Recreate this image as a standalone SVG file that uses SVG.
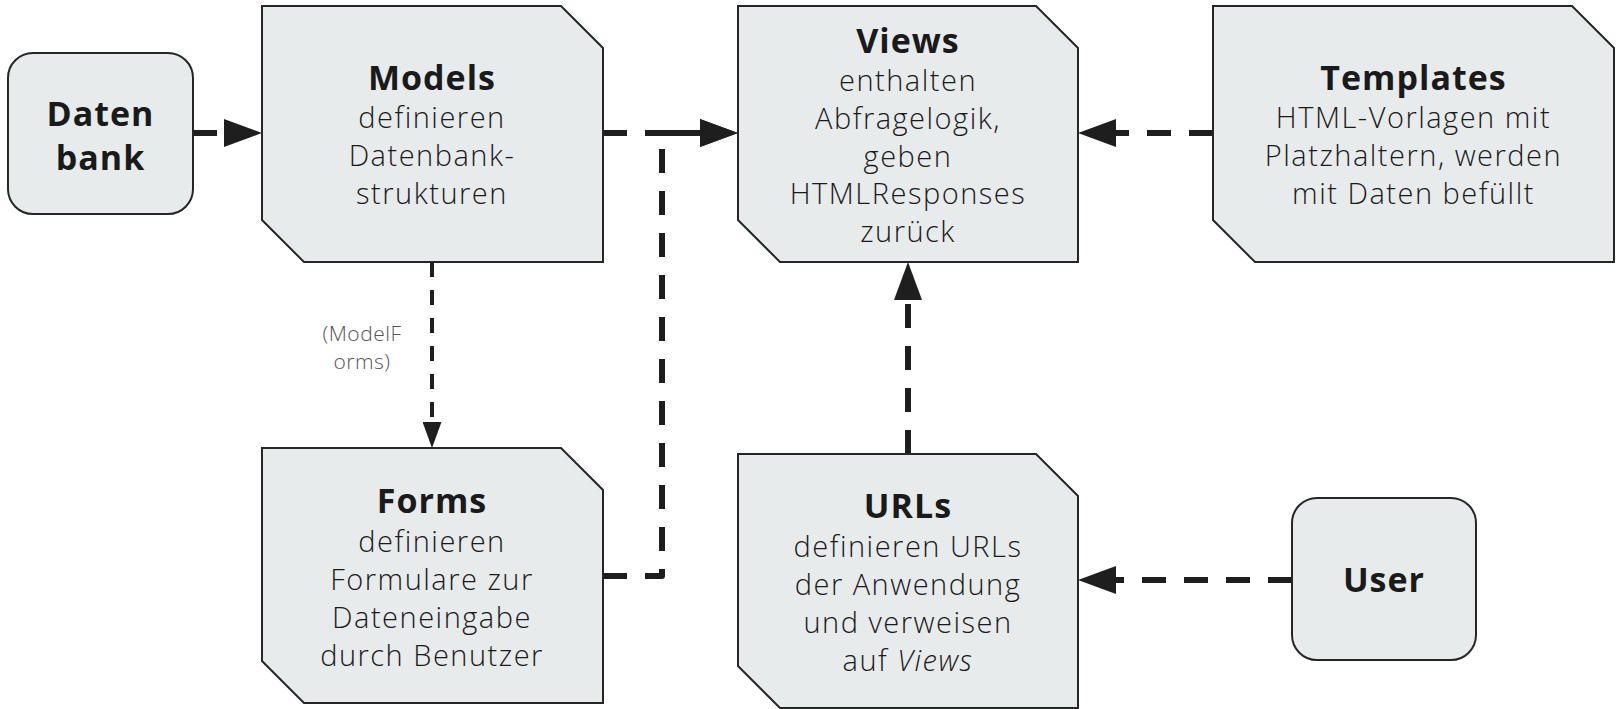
<svg xmlns="http://www.w3.org/2000/svg" width="1616" height="709" viewBox="0 0 1616 709">
<defs>
<style>
.node{fill:#E8EBEC;stroke:#262626;stroke-width:2}
.t{font-family:"Open Sans","Liberation Sans",sans-serif;fill:#1a1a1a;text-anchor:middle}
.title{font-size:34px;font-weight:700;letter-spacing:1px}
.body{font-size:29px;font-weight:300;letter-spacing:1.5px}
.edge{fill:none;stroke:#1e1e1e;stroke-linejoin:round}
.thick{stroke-width:6;stroke-dasharray:24 18;marker-end:url(#ah)}
.thin{stroke-width:4;stroke-dasharray:15 13;marker-end:url(#ahs)}
.lbl{font-family:"Open Sans","Liberation Sans",sans-serif;font-size:21px;font-weight:300;fill:#555;text-anchor:middle;letter-spacing:0.5px}
</style>
<marker id="ah" markerUnits="userSpaceOnUse" markerWidth="38" markerHeight="28" refX="0" refY="14" orient="auto" viewBox="0 0 38 28">
<path d="M0,0 L38,14 L0,28 Z" fill="#1e1e1e"/>
</marker>
<marker id="ahs" markerUnits="userSpaceOnUse" markerWidth="26" markerHeight="19" refX="0" refY="9.5" orient="auto" viewBox="0 0 26 19">
<path d="M0,0 L26,9.5 L0,19 Z" fill="#1e1e1e"/>
</marker>
</defs>
<rect width="1616" height="709" fill="#ffffff"/>
<g id="connectors">
<path class="edge thick" d="M193,133 H224"/>
<path class="edge thick" d="M603,133 H700"/>
<path class="edge thick" d="M603,576 H662 V133 H700"/>
<path class="edge thick" d="M1213,133 H1116"/>
<path class="edge thick" d="M908,454 V300"/>
<path class="edge thick" d="M1292,580 H1116"/>
<path class="edge thin" d="M432,262 V422"/>
<g id="label-modelforms">
<text class="lbl" x="362" y="341">(ModelF</text>
<text class="lbl" x="362" y="369">orms)</text>
</g>
</g>
<g id="datenbank">
<rect class="node" x="8" y="53" width="185" height="161" rx="25" ry="25"/>
<text class="t title" x="100.5" y="126">Daten</text>
<text class="t title" x="100.5" y="170">bank</text>
</g>
<g id="models">
<path class="node" d="M262,6 H561 L603,48 V262 H304 L262,220 Z"/>
<text class="t title" x="432" y="90">Models</text>
<text class="t body" x="432" y="128">definieren</text>
<text class="t body" x="432" y="166">Datenbank-</text>
<text class="t body" x="432" y="204">strukturen</text>
</g>
<g id="views">
<path class="node" d="M738,6 H1036 L1078,48 V262 H780 L738,220 Z"/>
<text class="t title" x="908" y="53">Views</text>
<text class="t body" x="908" y="91">enthalten</text>
<text class="t body" x="908" y="129">Abfragelogik,</text>
<text class="t body" x="908" y="167">geben</text>
<text class="t body" x="908" y="204">HTMLResponses</text>
<text class="t body" x="908" y="242">zurück</text>
</g>
<g id="templates">
<path class="node" d="M1213,6 H1572 L1614,48 V262 H1255 L1213,220 Z"/>
<text class="t title" x="1413.5" y="90">Templates</text>
<text class="t body" x="1413.5" y="128">HTML-Vorlagen mit</text>
<text class="t body" x="1413.5" y="166">Platzhaltern, werden</text>
<text class="t body" x="1413.5" y="204">mit Daten befüllt</text>
</g>
<g id="forms">
<path class="node" d="M262,448 H561 L603,490 V703 H304 L262,661 Z"/>
<text class="t title" x="432" y="513">Forms</text>
<text class="t body" x="432" y="552">definieren</text>
<text class="t body" x="432" y="590">Formulare zur</text>
<text class="t body" x="432" y="628">Dateneingabe</text>
<text class="t body" x="432" y="666">durch Benutzer</text>
</g>
<g id="urls">
<path class="node" d="M738,454 H1036 L1078,496 V708 H780 L738,666 Z"/>
<text class="t title" x="908" y="518">URLs</text>
<text class="t body" x="908" y="557">definieren URLs</text>
<text class="t body" x="908" y="595">der Anwendung</text>
<text class="t body" x="908" y="633">und verweisen</text>
<text class="t body" x="908" y="671">auf <tspan font-style="italic">Views</tspan></text>
</g>
<g id="user">
<rect class="node" x="1292" y="498" width="184" height="162" rx="25" ry="25"/>
<text class="t title" x="1384" y="592">User</text>
</g>
</svg>
